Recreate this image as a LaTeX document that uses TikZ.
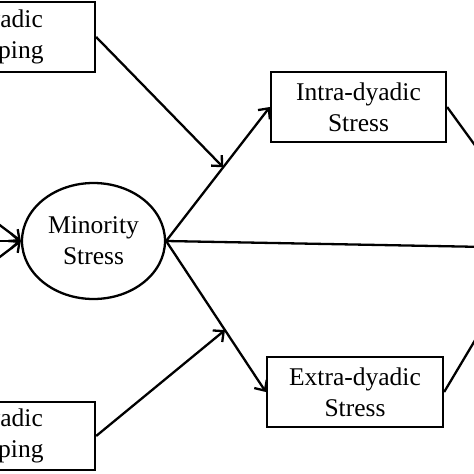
\documentclass[tikz,border=0pt]{standalone}
\usepackage{fontspec}
\setmainfont{Liberation Serif}
\usetikzlibrary{arrows.meta,shapes.geometric}
\begin{document}
\begin{tikzpicture}[x=1pt,y=-1pt,
  box/.style={draw,line width=2.3pt,rectangle,inner sep=0pt,align=center,
    font=\fontsize{25.5}{31}\selectfont},
  ell/.style={draw,line width=2.3pt,ellipse,inner sep=0pt,align=center,
    font=\fontsize{25.5}{31}\selectfont},
  conn/.style={line width=2.3pt},
  arr/.style={conn,-{Straight Barb[length=8pt,width=15pt,line width=2.3pt]}}]
\useasboundingbox (0,0) rectangle (474,474);
\clip (0,0) rectangle (474,474);
\fill[white] (0,0) rectangle (474,474);
\node[box,minimum width=178pt,minimum height=70pt] (dc1) at (6,37) {Dyadic\\Coping};
\node[box,minimum width=178pt,minimum height=68pt] (dc2) at (6,436) {Dyadic\\Coping};
\node[ell,minimum width=143pt,minimum height=116pt] (ms) at (93.5,241) {Minority\\Stress};
\node[box,minimum width=175pt,minimum height=70pt] (intra) at (358.5,107) {Intra-dyadic\\Stress};
\node[box,minimum width=176pt,minimum height=70pt] (extra) at (355,392) {Extra-dyadic\\Stress};
\coordinate (l1) at (-40,195);
\coordinate (l2) at (-40,241);
\coordinate (l3) at (-40,287);
\coordinate (o1) at (530,221);
\coordinate (o2) at (505,290);
\coordinate (o3) at (540,248);
\draw[arr] (l1) -- (ms.west);
\draw[arr] (l2) -- (ms.west);
\draw[arr] (l3) -- (ms.west);
\draw[arr] (ms.east) -- coordinate[pos=0.55] (m1) (intra.west);
\draw[arr] (ms.east) -- coordinate[pos=0.59] (m2) (extra.west);
\draw[conn] (ms.east) -- (o3);
\draw[arr] (dc1.east) -- (m1);
\draw[arr] (dc2.east) -- (m2);
\draw[conn] (intra.east) -- (o1);
\draw[conn] (extra.east) -- (o2);
\end{tikzpicture}
\end{document}
